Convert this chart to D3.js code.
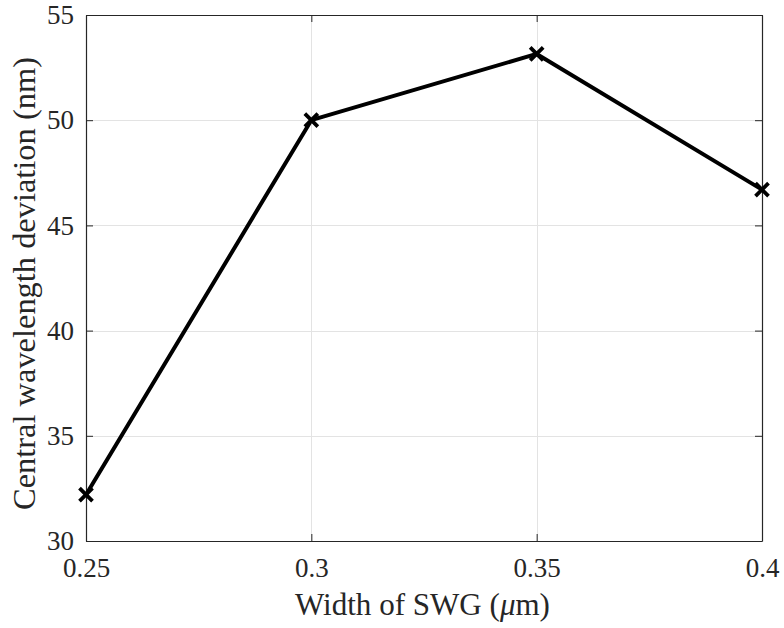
<!DOCTYPE html>
<html>
<head>
<meta charset="utf-8">
<script src="https://cdn.jsdelivr.net/npm/d3@7"></script>
</head>
<body style="margin:0;background:#fff">
<svg id="chart" width="784" height="628" style="display:block"></svg>
<script>
// SWG width sweep vs. central wavelength deviation
const widths = [0.25, 0.30, 0.35, 0.40];
const deviation = [32.2, 50.0, 53.15, 46.7];
const xTicks = [0.25, 0.3, 0.35, 0.4];
const xTickLabels = ["0.25", "0.3", "0.35", "0.4"];
const yTicks = [30, 35, 40, 45, 50, 55];

const FONT = "Liberation Serif";
const svg = d3.select("#chart");
const m = { left: 86, right: 762, top: 15, bottom: 541 };

const x = d3.scaleLinear().domain([0.25, 0.4]).range([m.left, m.right]);
const y = d3.scaleLinear().domain([30, 55]).range([m.bottom, m.top]);

// grid
const grid = svg.append("g").attr("stroke", "#e3e3e3").attr("stroke-width", 1);
xTicks.forEach(t => grid.append("line")
  .attr("x1", Math.round(x(t)) + 0.5).attr("x2", Math.round(x(t)) + 0.5)
  .attr("y1", m.top).attr("y2", m.bottom));
yTicks.forEach(t => grid.append("line")
  .attr("y1", Math.round(y(t)) + 0.5).attr("y2", Math.round(y(t)) + 0.5)
  .attr("x1", m.left).attr("x2", m.right));

// axes with inward ticks
const axisColor = "#262626";
const xAxis = d3.axisBottom(x).tickValues(xTicks)
  .tickFormat((d, i) => xTickLabels[i]).tickSizeInner(-7).tickSizeOuter(0).tickPadding(17);
const yAxis = d3.axisLeft(y).tickValues(yTicks).tickSizeInner(-7).tickSizeOuter(0).tickPadding(12);

const gx = svg.append("g").attr("transform", `translate(0,${m.bottom})`).call(xAxis);
const gy = svg.append("g").attr("transform", `translate(${m.left},0)`).call(yAxis);
const gxt = svg.append("g").attr("transform", `translate(0,${m.top})`)
  .call(d3.axisTop(x).tickValues(xTicks).tickFormat("").tickSizeInner(-7).tickSizeOuter(0));
const gyr = svg.append("g").attr("transform", `translate(${m.right},0)`)
  .call(d3.axisRight(y).tickValues(yTicks).tickFormat("").tickSizeInner(-7).tickSizeOuter(0));

[gx, gy, gxt, gyr].forEach(g => {
  g.attr("font-family", FONT).attr("font-size", 27);
  g.selectAll(".domain").attr("stroke", axisColor).attr("stroke-width", 1.2);
  g.selectAll(".tick line").attr("stroke", axisColor).attr("stroke-width", 1);
  g.selectAll("text").attr("fill", "#262626")
    .attr("font-family", FONT).attr("font-size", 27);
});
gx.selectAll("text").attr("dy", "0.72em");

// data line
const pts = widths.map((w, i) => [w, deviation[i]]);
svg.append("path")
  .datum(pts)
  .attr("fill", "none")
  .attr("stroke", "#000")
  .attr("stroke-width", 4)
  .attr("stroke-linejoin", "round")
  .attr("d", d3.line().x(d => x(d[0])).y(d => y(d[1])));

// cross markers
const s = 6.5;
svg.append("g").selectAll("path").data(pts).join("path")
  .attr("d", d => {
    const cx = x(d[0]), cy = y(d[1]);
    return `M${cx - s},${cy - s}L${cx + s},${cy + s}M${cx - s},${cy + s}L${cx + s},${cy - s}`;
  })
  .attr("stroke", "#000").attr("stroke-width", 3.8).attr("fill", "none");

// axis titles, sized to span their target widths
function fitSize(sel, target) {
  const len = sel.node().getComputedTextLength();
  const fs = +sel.attr("font-size");
  sel.attr("font-size", (fs * target / len).toFixed(2));
}

const xt = svg.append("text")
  .attr("x", 422.5).attr("y", 615)
  .attr("text-anchor", "middle").attr("font-family", FONT).attr("font-size", 31).attr("fill", "#262626");
xt.append("tspan").text("Width of SWG (");
xt.append("tspan").attr("font-style", "italic").text("μ");
xt.append("tspan").text("m)");
fitSize(xt, 255);

const yt = svg.append("text")
  .attr("transform", "translate(35,283.5) rotate(-90)")
  .attr("text-anchor", "middle").attr("font-family", FONT).attr("font-size", 31).attr("fill", "#262626")
  .text("Central wavelength deviation (nm)");
fitSize(yt, 453);
</script>
</body>
</html>
